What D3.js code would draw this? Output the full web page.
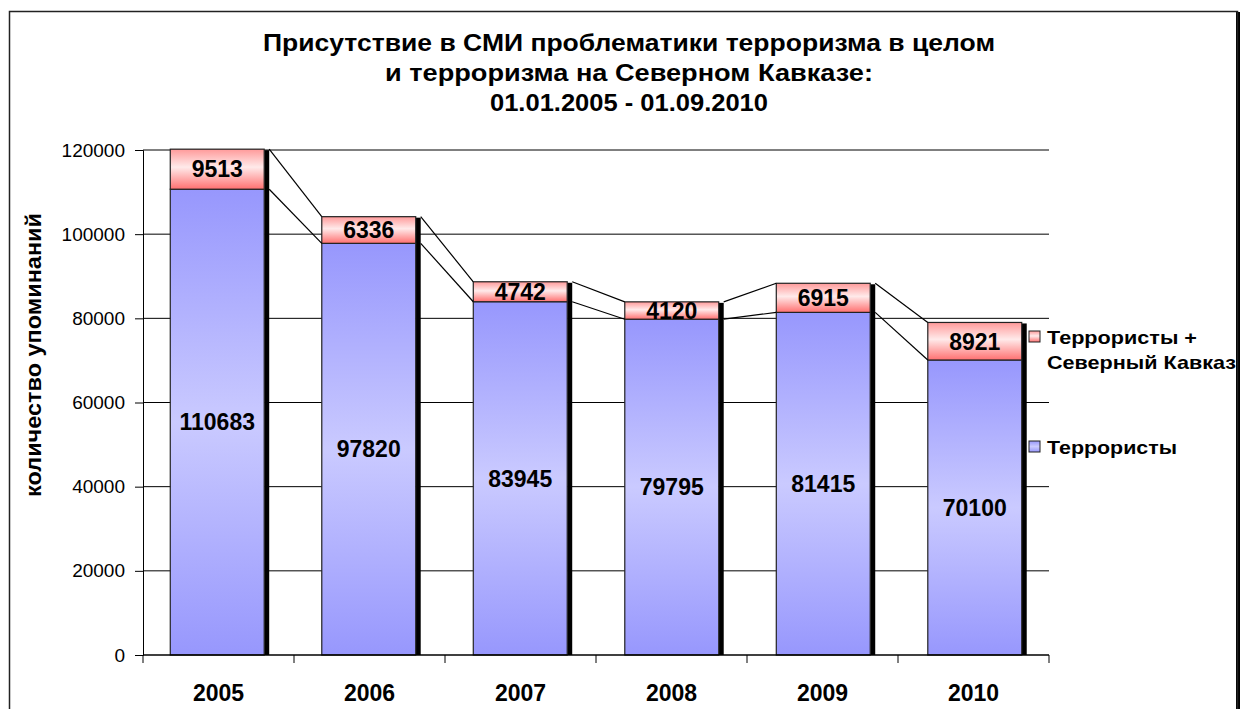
<!DOCTYPE html>
<html><head><meta charset="utf-8">
<script src="https://cdn.jsdelivr.net/npm/d3@7"></script>
<style>body{margin:0;background:#fff}svg{display:block}text{font-family:"Liberation Sans",Arial,sans-serif}</style>
</head><body>
<svg id="c" width="1241" height="709"></svg>
<script>
const years = ["2005","2006","2007","2008","2009","2010"];
const terrorists = [110683, 97820, 83945, 79795, 81415, 70100];
const northCaucasus = [9513, 6336, 4742, 4120, 6915, 8921];
const yTicks = [0,20000,40000,60000,80000,100000,120000];
const titleLines = ["Присутствие в СМИ проблематики терроризма в целом","и терроризма на Северном Кавказе:","01.01.2005 - 01.09.2010"];
const seriesNames = ["Террористы +\nСеверный Кавказ","Террористы"];

const svg = d3.select("#c");
const defs = svg.append("defs");
const gb = defs.append("linearGradient").attr("id","gBlue").attr("x1",0).attr("y1",0).attr("x2",0).attr("y2",1);
[[0,"#9797fd"],[0.5,"#cacaff"],[1,"#9797fd"]].forEach(s=>gb.append("stop").attr("offset",s[0]).attr("stop-color",s[1]));
const gr = defs.append("linearGradient").attr("id","gRed").attr("x1",0).attr("y1",0).attr("x2",0).attr("y2",1);
[[0,"#ff9a9a"],[0.45,"#ffeaea"],[1,"#ff7070"]].forEach(s=>gr.append("stop").attr("offset",s[0]).attr("stop-color",s[1]));

// outer frame
svg.append("rect").attr("x",1236).attr("y",12).attr("width",4).attr("height",700).attr("fill","#000");
svg.append("rect").attr("x",9.5).attr("y",11.5).attr("width",1228).attr("height",710).attr("fill","none").attr("stroke","#222").attr("stroke-width",1.5);

const L=143, R=1049, T=150, B=655;
const x = d3.scaleBand().domain(years).range([L,R]).paddingInner(0.38).paddingOuter(0.18);
const xb = d3.scaleBand().domain(years).range([L,R]);
const y = d3.scaleLinear().domain([0,120000]).range([B,T]);

// title
const tw=[732,488,278];
titleLines.forEach((t,i)=>{
  svg.append("text").attr("x",629).attr("y",51+i*30).attr("text-anchor","middle")
    .attr("font-size",23).attr("font-weight","bold").attr("textLength",tw[i]).attr("lengthAdjust","spacingAndGlyphs").text(t);
});

// gridlines
svg.append("g").selectAll("line").data(yTicks.slice(1)).join("line")
  .attr("x1",L).attr("x2",R).attr("y1",d=>y(d)).attr("y2",d=>y(d)).attr("stroke","#000").attr("stroke-width",1);

// y axis
const ya = svg.append("g").attr("transform",`translate(${L},0)`).call(d3.axisLeft(y).tickValues(yTicks).tickSize(8).tickPadding(10).tickFormat(d3.format("d")));
ya.select(".domain").attr("stroke","#000");
ya.selectAll("text").attr("font-size",19).attr("font-family","Liberation Sans, Arial, sans-serif").attr("fill","#000");
svg.append("text").attr("transform","translate(41,355) rotate(-90)").attr("text-anchor","middle")
  .attr("font-size",22).attr("font-weight","bold").attr("textLength",284).attr("lengthAdjust","spacingAndGlyphs").text("количество упоминаний");

// bars
const bw = x.bandwidth();
years.forEach((yr,i)=>{
  const x0 = x(yr), b = terrorists[i], r = northCaucasus[i];
  svg.append("rect").attr("x",x0+bw).attr("y",y(b+r)+1).attr("width",5).attr("height",B-y(b+r)-1).attr("fill","#000");
  svg.append("rect").attr("x",x0).attr("y",y(b)).attr("width",bw).attr("height",B-y(b))
    .attr("fill","url(#gBlue)").attr("stroke","#222").attr("stroke-width",1.2);
  svg.append("rect").attr("x",x0).attr("y",y(b+r)).attr("width",bw).attr("height",y(b)-y(b+r))
    .attr("fill","url(#gRed)").attr("stroke","#222").attr("stroke-width",1.2);
  svg.append("text").attr("x",x0+bw/2).attr("y",(y(b)+B)/2).attr("dy","0.36em").attr("text-anchor","middle")
    .attr("font-size",23).attr("font-weight","bold").text(b);
  svg.append("text").attr("x",x0+bw/2).attr("y",(y(b)+y(b+r))/2).attr("dy","0.36em").attr("text-anchor","middle")
    .attr("font-size",23).attr("font-weight","bold").text(r);
});
// series lines
for(let i=0;i<years.length-1;i++){
  const xa = x(years[i])+bw+5, xn = x(years[i+1]);
  [terrorists[i], terrorists[i]+northCaucasus[i]].forEach((v,k)=>{
    const vn = k===0? terrorists[i+1] : terrorists[i+1]+northCaucasus[i+1];
    svg.append("line").attr("x1",xa).attr("y1",y(v)).attr("x2",xn).attr("y2",y(vn)).attr("stroke","#000").attr("stroke-width",1.2);
  });
}

// x axis
const xa = svg.append("g").attr("transform",`translate(0,${B})`);
xa.append("line").attr("x1",L).attr("x2",R).attr("stroke","#000").attr("stroke-width",1.5);
xa.selectAll("line.t").data(years.concat(["end"])).join("line").attr("class","t")
  .attr("x1",(d,i)=>L+i*xb.bandwidth()).attr("x2",(d,i)=>L+i*xb.bandwidth()).attr("y1",0).attr("y2",8).attr("stroke","#000");
xa.selectAll("text").data(years).join("text").attr("x",d=>xb(d)+xb.bandwidth()/2).attr("y",46)
  .attr("text-anchor","middle").attr("font-size",23).attr("font-weight","bold").text(d=>d);

// legend
const lg = svg.append("g");
const legendItems = [{name:seriesNames[0], fill:"url(#gRed)", y:337, w:[150,189]},{name:seriesNames[1], fill:"url(#gBlue)", y:447, w:[130]}];
legendItems.forEach(it=>{
  lg.append("rect").attr("x",1029).attr("y",it.y-6).attr("width",11).attr("height",11).attr("fill",it.fill).attr("stroke","#222");
  it.name.split("\n").forEach((ln,j)=>{
    lg.append("text").attr("x",1047).attr("y",it.y+7+j*25).attr("font-size",19).attr("font-weight","bold")
      .attr("textLength",it.w[j]).attr("lengthAdjust","spacingAndGlyphs").text(ln);
  });
});
</script>
</body></html>
